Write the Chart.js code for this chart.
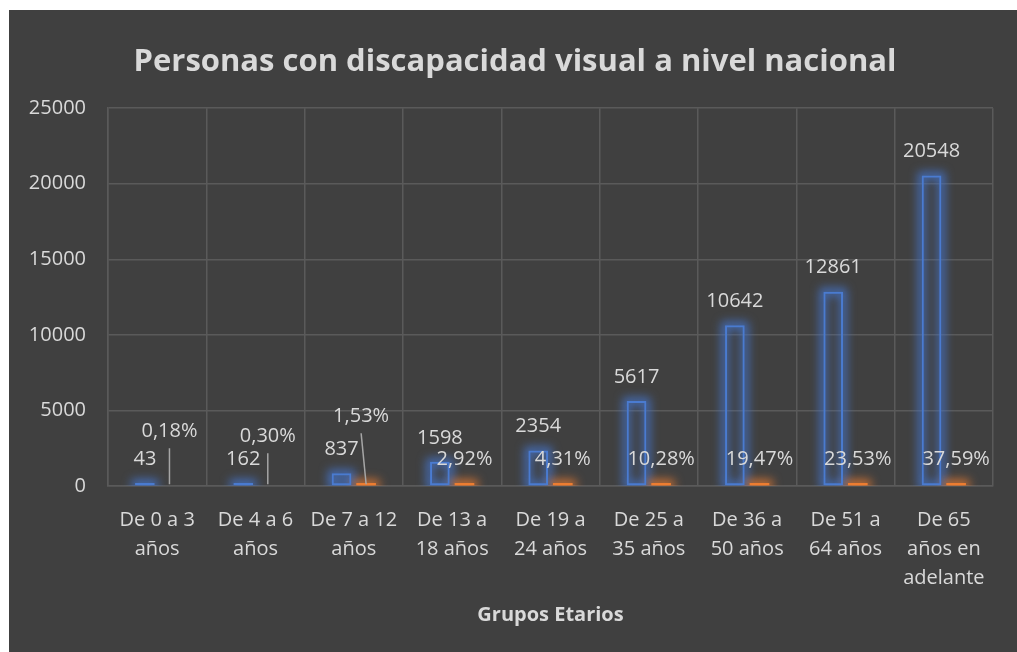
<!DOCTYPE html>
<html>
<head>
<meta charset="utf-8">
<script src="https://cdn.jsdelivr.net/npm/chart.js@4/dist/chart.umd.min.js"></script>
<style>
  html, body { margin: 0; padding: 0; background: #ffffff; }
  #marco {
    position: absolute; left: 9px; top: 10px;
    width: 1008px; height: 642px; background: #404040;
  }
</style>
</head>
<body>
<div id="marco"><canvas id="grafico" width="1008" height="642"></canvas></div>
<script>
// Datos
const categorias = [
    ["De 0 a 3", "años"], ["De 4 a 6", "años"], ["De 7 a 12", "años"],
    ["De 13 a", "18 años"], ["De 19 a", "24 años"], ["De 25 a", "35 años"],
    ["De 36 a", "50 años"], ["De 51 a", "64 años"], ["De 65", "años en", "adelante"]
];
const personas = [43, 162, 837, 1598, 2354, 5617, 10642, 12861, 20548];
const porcentajes = [0.18, 0.30, 1.53, 2.92, 4.31, 10.28, 19.47, 23.53, 37.59];
const ejeYMax = 25000;
const ejeYPaso = 5000;

// etiquetas de porcentaje movidas a mano (con linea guia), en px
const desplazPct = [[0, -27], [0, -22], [-5, -42], null, null, null, null, null, null];

const AZUL = '#4a7bd0';
const NARANJA = '#ED7D31';
const TEXTO = '#d9d9d9';
const REJILLA = '#5a5a5a';

document.addEventListener('DOMContentLoaded', () => {
    const ctx = document.getElementById('grafico').getContext('2d');

    // titulo centrado sobre todo el lienzo, no solo sobre el area con padding
    const tituloCentrado = {
        id: 'tituloCentrado',
        afterLayout(chart) {
            const t = chart.titleBlock;
            if (t) {
                t.left = 4;
                t.right = chart.width;
                t.width = t.right - t.left;
            }
        }
    };

    // brillo alrededor de las barras (efecto "glow" de Excel)
    const brillo = {
        id: 'brillo',
        beforeDatasetsDraw(chart) {
            const c = chart.ctx;
            const area = chart.chartArea;
            c.save();
            c.beginPath();
            c.rect(area.left, area.top - 20, area.right - area.left, area.bottom - area.top + 20);
            c.clip();
            chart.data.datasets.forEach((ds, i) => {
                const meta = chart.getDatasetMeta(i);
                meta.data.forEach((el, j) => {
                    if (i === 1 && ds.data[j] < 1) return;
                    const top = Math.min(el.y, el.base);
                    const h = Math.abs(el.base - el.y);
                    c.filter = 'blur(5px)';
                    c.strokeStyle = i === 0 ? 'rgba(68,114,196,0.95)' : 'rgba(237,125,49,0.8)';
                    c.lineWidth = 7;
                    c.strokeRect(el.x - el.width / 2, top, el.width, h);
                });
            });
            c.restore();
        }
    };

    // etiquetas de datos
    const etiquetas = {
        id: 'etiquetas',
        afterDatasetsDraw(chart) {
            const c = chart.ctx;
            c.save();
            c.font = '20px "Open Sans"';
            c.fillStyle = TEXTO;
            c.textAlign = 'center';
            c.textBaseline = 'middle';
            chart.data.datasets.forEach((ds, i) => {
                const meta = chart.getDatasetMeta(i);
                meta.data.forEach((el, j) => {
                    const top = Math.min(el.y, el.base);
                    let x = el.x;
                    let y = top - 24;
                    let texto;
                    if (i === 0) {
                        texto = String(ds.data[j]);
                    } else {
                        texto = ds.data[j].toFixed(2).replace('.', ',') + '%';
                        const d = desplazPct[j];
                        if (d) {
                            x = el.x + d[0];
                            y = el.base - 27 + d[1];
                            c.strokeStyle = '#a6a6a6';
                            c.lineWidth = 1.5;
                            c.beginPath();
                            c.moveTo(x, y + 17);
                            c.lineTo(el.x, el.base - 1);
                            c.stroke();
                        }
                    }
                    c.fillText(texto, x, y);
                });
            });
            c.restore();
        }
    };

    new Chart(ctx, {
        type: 'bar',
        data: {
            labels: categorias,
            datasets: [{
                label: 'Personas',
                data: personas,
                backgroundColor: 'rgba(0,0,0,0)',
                borderColor: AZUL,
                borderWidth: 2,
                borderSkipped: false,
                minBarLength: 3,
                categoryPercentage: 0.5,
                barPercentage: 0.8
            }, {
                label: 'Porcentaje',
                data: porcentajes,
                backgroundColor: (c) => (c.raw < 1 ? 'rgba(0,0,0,0)' : NARANJA),
                borderWidth: 0,
                minBarLength: 3,
                categoryPercentage: 0.5,
                barPercentage: 0.8
            }]
        },
        options: {
            responsive: false,
            animation: false,
            layout: { padding: { left: 0, right: 24, top: 0, bottom: 0 } },
            plugins: {
                legend: { display: false },
                tooltip: { enabled: false },
                title: {
                    display: true,
                    text: 'Personas con discapacidad visual a nivel nacional',
                    color: TEXTO,
                    font: { family: 'Open Sans', size: 31, weight: 'bold', lineHeight: 1.2 },
                    padding: { top: 34, bottom: 27 }
                }
            },
            scales: {
                x: {
                    grid: { color: REJILLA, lineWidth: 1.5, drawTicks: false },
                    border: { color: REJILLA, width: 1.5 },
                    ticks: {
                        color: TEXTO,
                        font: { family: 'Open Sans', size: 20, lineHeight: 1.45 },
                        padding: 20,
                        maxRotation: 0,
                        autoSkip: false
                    },
                    title: {
                        display: true,
                        text: 'Grupos Etarios',
                        color: TEXTO,
                        font: { family: 'Open Sans', size: 20, weight: 'bold', lineHeight: 1.2 },
                        padding: { top: 0, bottom: 25 }
                    },
                    afterFit(scale) { scale.height = 166; }
                },
                y: {
                    min: 0,
                    max: ejeYMax,
                    grid: { color: REJILLA, lineWidth: 1.5, drawTicks: false },
                    border: { color: REJILLA, width: 1.5 },
                    ticks: {
                        stepSize: ejeYPaso,
                        color: TEXTO,
                        font: { family: 'Open Sans', size: 20 },
                        padding: 22,
                        callback: (v) => String(v)
                    },
                    afterFit(scale) { scale.width = 99; }
                }
            }
        },
        plugins: [tituloCentrado, brillo, etiquetas]
    });
});
</script>
</body>
</html>
